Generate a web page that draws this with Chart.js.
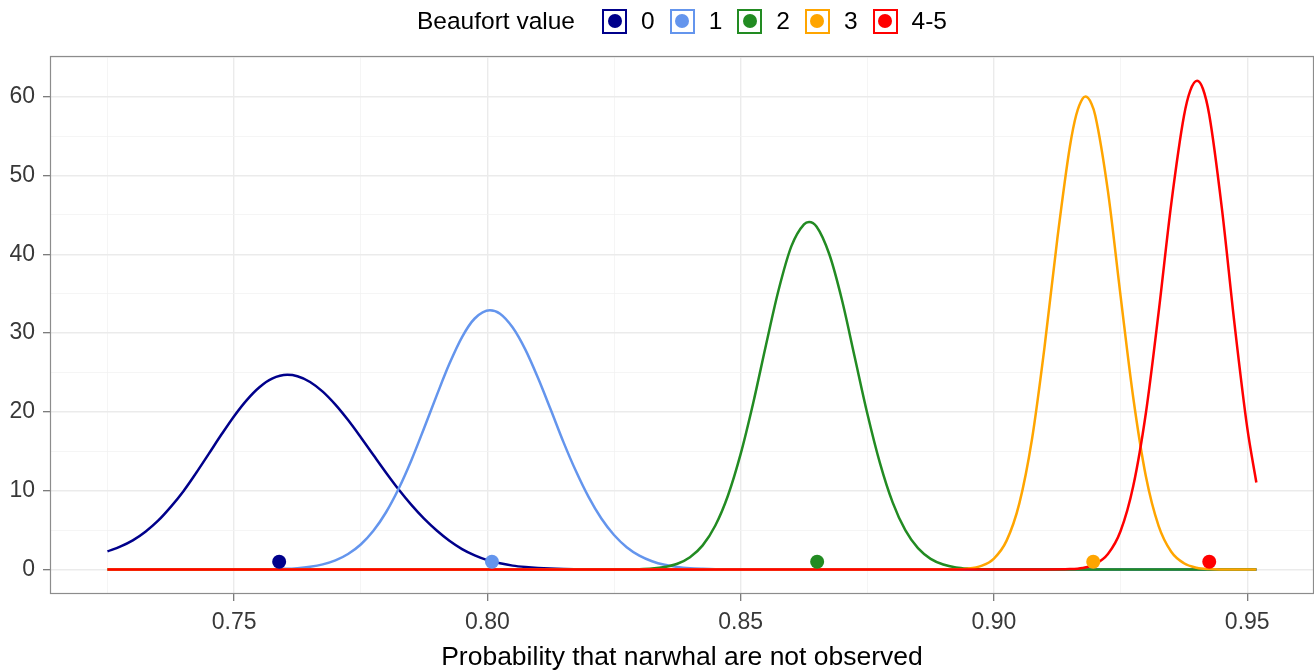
<!DOCTYPE html>
<html>
<head>
<meta charset="utf-8">
<title>Beaufort value densities</title>
<script src="https://cdn.jsdelivr.net/npm/chart.js@4.4.1/dist/chart.umd.min.js"></script>
<style>
  html, body { margin: 0; padding: 0; background: #fff; }
  #wrap { position: relative; width: 1314px; height: 671px; overflow: hidden; }
  #chart { position: absolute; left: 0; top: 0; }
  #legend {
    position: absolute; left: 50px; top: 8px; width: 1264px; height: 26px;
    display: flex; justify-content: center; align-items: center;
    font-family: "Liberation Sans", Arial, Helvetica, sans-serif; font-size: 24.5px; color: #000;
  }
  #legend .title { margin-right: 27px; }
  #legend .key {
    width: 25px; height: 25px; box-sizing: border-box; border: 2.5px solid;
    display: flex; align-items: center; justify-content: center; background: #fff;
  }
  #legend .dot { width: 14px; height: 14px; border-radius: 50%; }
  #legend .lab { margin-left: 14px; margin-right: 15px; }
  #legend .lab:last-child { margin-right: 0; }
</style>
</head>
<body>
<div id="wrap">
  <canvas id="chart" width="1314" height="671"></canvas>
  <div id="legend"></div>
</div>
<script>
// ─── Data ──────────────────────────────────────────────────────
const levels = ['0', '1', '2', '3', '4-5'];
const lineColors = ['#00008B', '#6495ED', '#228B22', '#FFA500', '#FF0000'];

// density curves: x = probability, y = density
const b0X = [0.725, 0.7275, 0.730, 0.7325, 0.735, 0.7375, 0.740, 0.7425, 0.745, 0.7475, 0.750, 0.7525, 0.755, 0.7575, 0.7605,
             0.7625, 0.765, 0.7675, 0.770, 0.7725, 0.775, 0.7775, 0.780, 0.7825, 0.785, 0.7875, 0.790, 0.7925, 0.795, 0.7975,
             0.800, 0.8025, 0.805, 0.8075, 0.810, 0.815, 0.820, 0.825, 0.830, 0.9518];
const b0Y = [2.3, 2.9, 3.7, 4.8, 6.2, 7.95, 9.95, 12.25, 14.68, 17.13, 19.46, 21.5, 23.13, 24.22, 24.7,
             24.52, 23.8, 22.57, 20.92, 18.96, 16.79, 14.53, 12.29, 10.15, 8.2, 6.45, 4.95, 3.65, 2.6, 1.8,
             1.2, 0.8, 0.5, 0.32, 0.2, 0.07, 0.02, 0.01, 0, 0];

const b1X = [0.725, 0.755, 0.760, 0.7625, 0.765, 0.7675, 0.770, 0.7725, 0.775, 0.7775, 0.780, 0.7825, 0.785, 0.7875, 0.790, 0.7925, 0.795, 0.7975, 0.8005, 0.8025, 0.805, 0.8075, 0.810, 0.8125, 0.815, 0.8175, 0.820, 0.8225, 0.825, 0.8275, 0.830, 0.8325, 0.835, 0.8375, 0.840, 0.8425, 0.845, 0.850, 0.9518];
const b1Y = [0, 0.02, 0.09, 0.18, 0.36, 0.66, 1.16, 1.97, 3.18, 4.92, 7.27, 10.28, 13.88, 17.93, 22.1, 26.1, 29.5, 31.85, 32.9, 32.46, 30.7, 27.9, 24.3, 20.3, 16.2, 12.46, 9.18, 6.47, 4.38, 2.84, 1.77, 1.06, 0.60, 0.33, 0.17, 0.09, 0.04, 0.01, 0];

const b2X = [0.725, 0.825, 0.830, 0.8325, 0.835, 0.8375, 0.840, 0.8425, 0.845, 0.8475, 0.850, 0.8525, 0.855, 0.8575, 0.860, 0.8625, 0.8635, 0.865, 0.8675, 0.870, 0.8725, 0.875, 0.8775, 0.880, 0.8825, 0.885, 0.8875, 0.890, 0.8925, 0.895, 0.8975, 0.900, 0.905, 0.9518];
const b2Y = [0, 0.01, 0.05, 0.13, 0.33, 0.74, 1.57, 3.07, 5.59, 9.40, 14.67, 21.2, 28.5, 35.5, 41.0, 43.8, 44.1, 43.5, 40.0, 34.2, 27.0, 19.8, 13.5, 8.52, 4.99, 2.71, 1.36, 0.64, 0.27, 0.11, 0.04, 0.01, 0, 0];

const b3X = [0.725, 0.890, 0.895, 0.8975, 0.900, 0.9025, 0.905, 0.9075, 0.910, 0.9125, 0.915, 0.91625, 0.9175, 0.9181, 0.91925, 0.920, 0.9225, 0.925, 0.9275, 0.930, 0.9325, 0.935, 0.9375, 0.940, 0.9425, 0.945, 0.9518];
const b3Y = [0, 0.01, 0.13, 0.46, 1.40, 3.67, 8.36, 16.5, 28.3, 41.9, 53.7, 57.7, 59.75, 60.0, 59.1, 57.6, 48.0, 34.7, 21.8, 11.8, 5.55, 2.26, 0.80, 0.24, 0.06, 0.02, 0];

const b45X = [0.725, 0.910, 0.915, 0.9175, 0.920, 0.9225, 0.925, 0.9275, 0.930, 0.9325, 0.935, 0.9375, 0.93875, 0.9401, 0.94125, 0.9425, 0.945, 0.9475, 0.950, 0.9518];
const b45Y = [0, 0.01, 0.06, 0.21, 0.69, 1.97, 4.89, 10.6, 19.9, 32.6, 46.4, 57.5, 60.75, 62.0, 61.0, 57.7, 45.8, 31.1, 18.0, 11.05];

// observed values (dots)
const pointX = [0.7589, 0.8009, 0.8651, 0.9196, 0.9425];
const pointY = [1, 1, 1, 1, 1];

// axis ticks
const xMajorTicks = [0.75, 0.80, 0.85, 0.90, 0.95];
const yMajorTicks = [0, 10, 20, 30, 40, 50, 60];

// ─── Legend (HTML) ─────────────────────────────────────────────
const legendEl = document.getElementById('legend');
legendEl.innerHTML = '<span class="title">Beaufort value</span>' +
  levels.map((lv, i) =>
    `<span class="key" style="border-color:${lineColors[i]}"><span class="dot" style="background:${lineColors[i]}"></span></span>` +
    `<span class="lab">${lv}</span>`).join('');

// ─── Chart ─────────────────────────────────────────────────────
Chart.defaults.font.family = '"Liberation Sans", Arial, Helvetica, sans-serif';

const near = (v, list) => list.some(t => Math.abs(t - v) < 1e-6);

const curves = [[b0X, b0Y], [b1X, b1Y], [b2X, b2Y], [b3X, b3Y], [b45X, b45Y]];

const datasets = curves.map(([xs, ys], i) => ({
  label: levels[i],
  data: xs.map((x, j) => ({ x, y: ys[j] })),
  borderColor: lineColors[i],
  borderWidth: 2.5,
  pointRadius: 0,
  pointHoverRadius: 0,
  fill: false,
  cubicInterpolationMode: 'monotone',
  order: curves.length - i
}));

datasets.push({
  label: 'observed',
  data: pointX.map((x, i) => ({ x, y: pointY[i] })),
  showLine: false,
  pointRadius: 7,
  pointHoverRadius: 7,
  pointBackgroundColor: lineColors,
  pointBorderWidth: 0,
  order: 0
});

const panelBorder = {
  id: 'panelBorder',
  afterDraw(chart) {
    const { ctx, chartArea: a } = chart;
    ctx.save();
    ctx.strokeStyle = '#8c8c8c';
    ctx.lineWidth = 1.2;
    ctx.strokeRect(a.left + 0.5, a.top + 0.5, a.right - a.left - 1, a.bottom - a.top - 1);
    ctx.restore();
  }
};

const gridFor = majors => ({
  color: c => (c.tick && near(c.tick.value, majors)) ? '#EBEBEB' : '#F3F3F3',
  lineWidth: c => (c.tick && near(c.tick.value, majors)) ? 1.4 : 0.8,
  tickLength: 7,
  tickWidth: 1.2,
  tickColor: c => (c.tick && near(c.tick.value, majors)) ? '#6e6e6e' : 'rgba(0,0,0,0)'
});

new Chart(document.getElementById('chart'), {
  type: 'line',
  data: { datasets },
  options: {
    responsive: false,
    animation: false,
    layout: { autoPadding: false, padding: { top: 56, left: 0, right: 0, bottom: 0 } },
    plugins: { legend: { display: false }, tooltip: { enabled: false } },
    scales: {
      x: {
        type: 'linear',
        min: 0.71366,
        max: 0.96318,
        afterFit: s => { s.height = 77; },
        grid: gridFor(xMajorTicks),
        border: { display: false },
        ticks: {
          stepSize: 0.025,
          includeBounds: false,
          autoSkip: false,
          maxRotation: 0,
          maxTicksLimit: 100,
          padding: 8,
          color: '#383838',
          font: { size: 23 },
          callback: v => near(v, xMajorTicks) ? v.toFixed(2) : ''
        },
        title: {
          display: true,
          text: 'Probability that narwhal are not observed',
          color: '#000',
          font: { size: 26.5, lineHeight: 1 },
          padding: 0
        }
      },
      y: {
        type: 'linear',
        min: -3.1,
        max: 65.15,
        afterFit: s => { s.width = 50; },
        grid: gridFor(yMajorTicks),
        border: { display: false },
        ticks: {
          stepSize: 5,
          includeBounds: false,
          autoSkip: false,
          maxTicksLimit: 100,
          padding: 8,
          color: '#383838',
          font: { size: 23 },
          callback: v => near(v, yMajorTicks) ? String(v) : ''
        }
      }
    }
  },
  plugins: [panelBorder]
});
</script>
</body>
</html>
